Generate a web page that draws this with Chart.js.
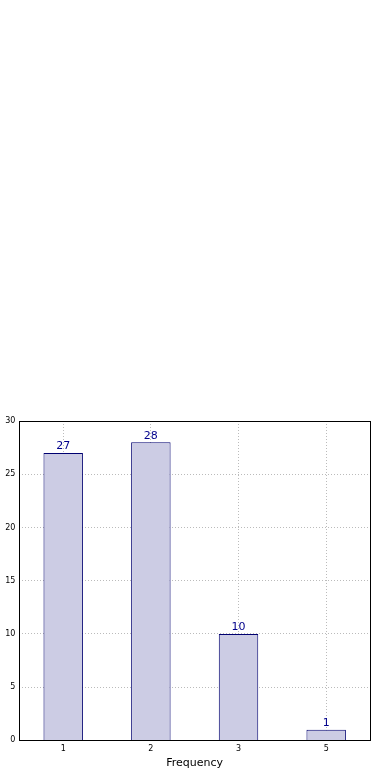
<!DOCTYPE html>
<html>
<head>
<meta charset="utf-8">
<script src="https://cdn.jsdelivr.net/npm/chart.js@4/dist/chart.umd.min.js"></script>
<style>
    html, body { margin: 0; padding: 0; background: #fff; overflow: hidden; }
    #wrap { position: absolute; left: -14px; top: 0; width: 402px; height: 780px; }
</style>
</head>
<body>
<div id="wrap"><canvas id="freqChart" width="402" height="780"></canvas></div>
<script>
/*==============================================================
    DATA
==============================================================*/
const categories = ["1", "2", "3", "5"];
const counts = [27, 28, 10, 1];
const yTicks = [0, 5, 10, 15, 20, 25, 30];

/*==============================================================
    PLUGINS
==============================================================*/
const frameBox = {
    id: "frameBox",
    afterDraw(chart) {
        const a = chart.chartArea;
        const c = chart.ctx;
        c.save();
        c.strokeStyle = "#000";
        c.lineWidth = 1;
        c.strokeRect(Math.round(a.left) + 0.5, Math.round(a.top) + 0.5,
            Math.round(a.right - a.left), Math.round(a.bottom - a.top));
        c.restore();
    }
};

const barValues = {
    id: "barValues",
    afterDatasetsDraw(chart) {
        const c = chart.ctx;
        const meta = chart.getDatasetMeta(0);
        c.save();
        c.fillStyle = "#00008b";
        c.font = "11px 'DejaVu Sans'";
        c.textAlign = "center";
        c.textBaseline = "bottom";
        meta.data.forEach(function (bar, i) {
            c.fillText(String(counts[i]), bar.x, bar.y - 1);
        });
        c.restore();
    }
};

/*==============================================================
    CHART
==============================================================*/
function frequencyChart() {
    const ctx = document.getElementById("freqChart");
    new Chart(ctx, {
        type: "bar",
        data: {
            labels: categories,
            datasets: [{
                data: counts,
                backgroundColor: "#cccce4",
                borderColor: "#000070",
                borderWidth: 1,
                barPercentage: 0.45,
                categoryPercentage: 1
            }]
        },
        options: {
            responsive: false,
            animation: false,
            layout: { padding: { top: 421, right: 18, bottom: 11, left: 0 } },
            plugins: {
                legend: { display: false },
                tooltip: { enabled: false }
            },
            scales: {
                x: {
                    z: 1,
                    grid: {
                        offset: false,
                        color: "#bbbbbb",
                        drawTicks: false
                    },
                    border: { display: false, dash: [1, 2] },
                    ticks: {
                        color: "#000",
                        font: { family: "DejaVu Sans", size: 8 },
                        padding: 4
                    },
                    title: {
                        display: true,
                        text: "Frequency",
                        color: "#000",
                        font: { family: "DejaVu Sans", size: 11, lineHeight: 1 },
                        padding: { top: 0, bottom: 0 }
                    }
                },
                y: {
                    z: 1,
                    min: 0,
                    max: 30,
                    afterBuildTicks: function (axis) {
                        axis.ticks = yTicks.map(function (v) { return { value: v }; });
                    },
                    grid: {
                        color: "#bbbbbb",
                        drawTicks: false
                    },
                    border: { display: false, dash: [1, 2] },
                    ticks: {
                        color: "#000",
                        font: { family: "DejaVu Sans", size: 8 },
                        padding: 4
                    },
                    title: {
                        display: true,
                        text: "Stack Overflow users",
                        color: "#000",
                        font: { family: "DejaVu Sans", size: 11 },
                        padding: { top: 0, bottom: 2 }
                    }
                }
            }
        },
        plugins: [frameBox, barValues]
    });
}

frequencyChart();
</script>
</body>
</html>
